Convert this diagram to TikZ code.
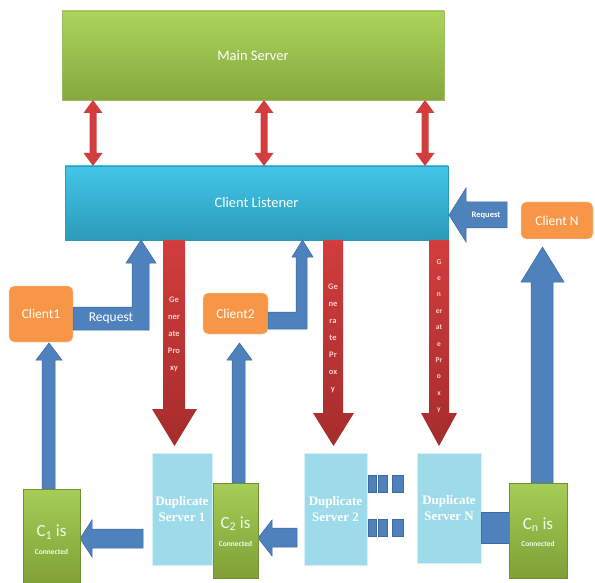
\documentclass[tikz,border=0pt]{standalone}
\usepackage{fontspec}
\setmainfont{Carlito}
\newfontfamily\dsfont{Liberation Serif}
\usetikzlibrary{calc}
\definecolor{msTop}{HTML}{ABD45C}
\definecolor{msBot}{HTML}{86A83E}
\definecolor{clTop}{HTML}{43C6E8}
\definecolor{clBot}{HTML}{2B9BB9}
\definecolor{orng}{HTML}{F79646}
\definecolor{blu}{HTML}{4F81BD}
\definecolor{bluD}{HTML}{3D6A9E}
\definecolor{redA}{HTML}{D23D3D}
\definecolor{redB}{HTML}{A62C2C}
\definecolor{dsb}{HTML}{9DDAEA}
\definecolor{cTop}{HTML}{A6CD57}
\definecolor{cBot}{HTML}{7FA036}
\tikzset{
  box/.style={rectangle, inner sep=0pt, outer sep=0pt, text=white},
  msbox/.style={box, top color=msTop, bottom color=msBot, draw=msBot!80!white, line width=0.4pt},
  clbox/.style={box, top color=clTop, bottom color=clBot, draw=clBot, line width=0.4pt},
  client/.style={box, fill=orng, draw=white!70!orng, rounded corners=5pt, font=\fontsize{13.5}{15}\selectfont},
  dsbox/.style={box, fill=dsb, draw=white!60!dsb, line width=0.5pt, align=center, font=\dsfont\bfseries\fontsize{13}{16}\selectfont},
  cbox/.style={box, top color=cTop, bottom color=cBot, draw=cBot!90!black, line width=0.4pt},
  cbig/.style={text=white!92!green, font=\fontsize{17}{17}\selectfont, inner sep=0pt},
  csmall/.style={text=white!92!green, font=\bfseries\fontsize{7.5}{8}\selectfont, inner sep=0pt},
  bluearrow/.style={fill=blu, draw=bluD, line width=0.5pt, line join=miter},
  redarrow/.style={top color=redA, bottom color=redB, draw=none},
  gptext/.style={text=white!80!red, align=center, inner sep=0pt},
  dot/.style={fill=blu, draw=bluD, line width=0.5pt}
}
\newcommand\redDbl[3]{%
  \fill[redA] ({#1-3.5},{#2+13}) -- ({#1-9.5},{#2+13}) -- (#1,#2) -- ({#1+9.5},{#2+13}) -- ({#1+3.5},{#2+13})
   -- ({#1+3.5},{#3-13}) -- ({#1+9.5},{#3-13}) -- (#1,#3) -- ({#1-9.5},{#3-13}) -- ({#1-3.5},{#3-13}) -- cycle;}
\begin{document}
\begin{tikzpicture}[x=1pt,y=-1pt]
\useasboundingbox (0,0) rectangle (595,583);
\fill[white] (0,0) rectangle (595,583);

% main server and client listener
\node[msbox, minimum width=382pt, minimum height=89pt, font=\fontsize{14.5}{16}\selectfont] (ms) at (253,55.5) {Main Server};
\node[clbox, minimum width=383pt, minimum height=74pt, font=\fontsize{14.5}{16}\selectfont] (cl) at (256.5,203) {Client Listener};

% double red arrows
\redDbl{93}{100}{166}
\redDbl{264}{100}{166}
\redDbl{425}{100}{166}

% clients
\node[client, minimum width=64pt, minimum height=56pt] (c1) at (41,314) {Client1};
\node[client, minimum width=65pt, minimum height=41pt] (c2) at (235.5,313.5) {Client2};
\node[client, minimum width=72pt, minimum height=37pt] (cn) at (557,220.5) {Client N};

% request arrows
\draw[bluearrow] (73,307) -- (132,307) -- (132,263) -- (126,263) -- (141,240) -- (156,263) -- (149,263) -- (149,330) -- (73,330) -- cycle;
\node[text=white, font=\fontsize{13.5}{15}\selectfont, inner sep=0pt] (rq1) at (111,318) {Request};
\draw[bluearrow] (268,312) -- (296,312) -- (296,257) -- (292,257) -- (302.5,240) -- (313,257) -- (307,257) -- (307,329) -- (268,329) -- cycle;
\draw[bluearrow] (449,215) -- (466,188) -- (466,202) -- (507,202) -- (507,228) -- (466,228) -- (466,242) -- cycle;
\node[text=white, font=\bfseries\fontsize{8.5}{9}\selectfont, inner sep=0pt] (rqn) at (486,215) {Request};

% generate proxy arrows
\path[redarrow] (163,240) -- (163,409) -- (152,409) -- (174.5,446) -- (197,409) -- (185,409) -- (185,240) -- cycle;
\node[gptext, font=\bfseries\fontsize{8.5}{17}\selectfont] (gp1) at (174,334) {Ge\\ner\\ate\\Pro\\xy};
\path[redarrow] (323,240) -- (323,413) -- (313,413) -- (333.5,446) -- (354,413) -- (343,413) -- (343,240) -- cycle;
\node[gptext, font=\bfseries\fontsize{8.5}{17}\selectfont] (gp2) at (333,338.5) {Ge\\ne\\ra\\te\\Pr\\ox\\y};
\path[redarrow] (429,240) -- (429,413) -- (421,413) -- (439,446) -- (457,413) -- (449,413) -- (449,240) -- cycle;
\node[gptext, font=\bfseries\fontsize{7.5}{16.4}\selectfont] (gp3) at (439,336) {G\\e\\n\\er\\at\\e\\Pr\\o\\x\\y};

% up arrows to clients
\draw[bluearrow] (42,489) -- (42,360) -- (36,360) -- (49,343) -- (62,360) -- (55,360) -- (55,489) -- cycle;
\draw[bluearrow] (232,483) -- (232,360) -- (227,360) -- (239.5,343) -- (252,360) -- (245,360) -- (245,483) -- cycle;
\draw[bluearrow] (531,483) -- (531,282) -- (521,282) -- (542.5,247) -- (564,282) -- (553,282) -- (553,483) -- cycle;

% duplicate servers
\node[dsbox, minimum width=60pt, minimum height=112pt] (ds1) at (182,509) {Duplicate\\Server 1};
\node[dsbox, minimum width=63pt, minimum height=112pt] (ds2) at (335.5,509) {Duplicate\\Server 2};
\node[dsbox, minimum width=64pt, minimum height=110pt] (dsn) at (449,508) {Duplicate\\Server N};

% left arrows from servers
\draw[bluearrow] (80,538.5) -- (92,520) -- (92,529) -- (143,529) -- (143,548) -- (92,548) -- (92,557) -- cycle;
\draw[bluearrow] (258,538) -- (272,520) -- (272,528) -- (297,528) -- (297,547) -- (272,547) -- (272,556) -- cycle;
\draw[bluearrow] (481,512) rectangle (510,543);

% dots between server 2 and server N
\foreach \yy in {475,519} {
  \draw[dot] (368,\yy) rectangle (376,\yy+17);
  \draw[dot] (378.5,\yy) rectangle (387,\yy+17);
  \draw[dot] (392,\yy) rectangle (403,\yy+17);
}

% connected boxes
\node[cbox, minimum width=57pt, minimum height=96pt] (cb1) at (51.5,537) {};
\node[cbig] (cb1t) at ($(cb1.center)+(0,-5)$) {C\textsubscript{1} is};
\node[csmall] (cb1s) at ($(cb1.center)+(0,15)$) {Connected};
\node[cbox, minimum width=45pt, minimum height=95pt] (cb2) at (235.5,530.5) {};
\node[cbig] (cb2t) at ($(cb2.center)+(0,-7)$) {C\textsubscript{2} is};
\node[csmall] (cb2s) at ($(cb2.center)+(0,13)$) {Connected};
\node[cbox, minimum width=58pt, minimum height=95pt] (cbn) at (538,530.5) {};
\node[cbig] (cbnt) at ($(cbn.center)+(0,-6)$) {C\textsubscript{n} is};
\node[csmall] (cbns) at ($(cbn.center)+(0,13)$) {Connected};
\end{tikzpicture}
\end{document}
